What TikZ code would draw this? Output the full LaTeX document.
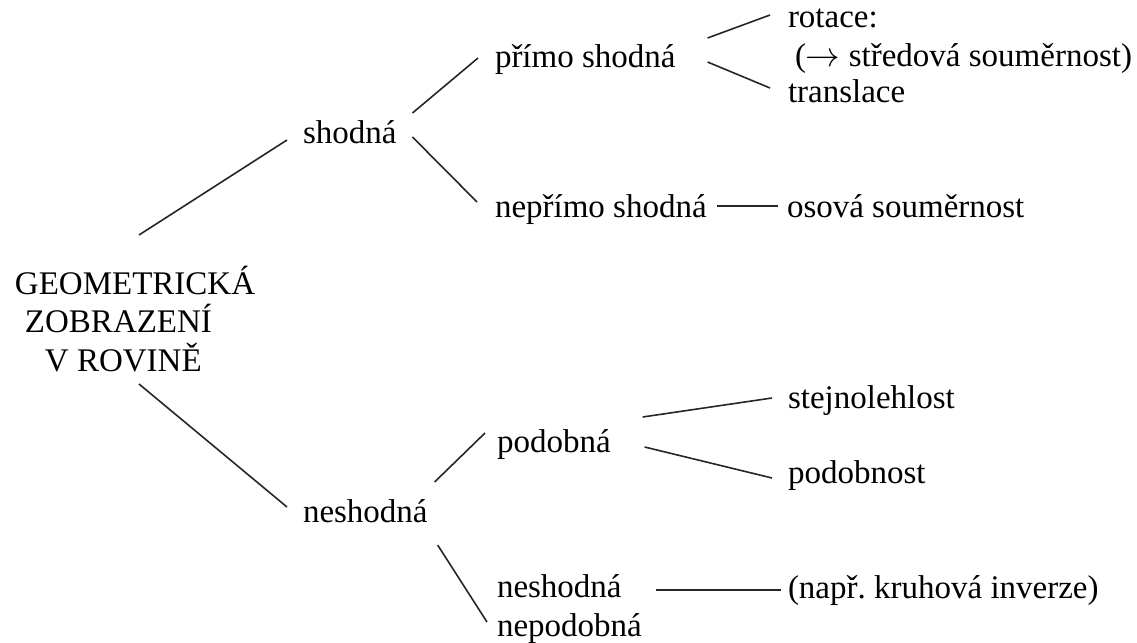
\documentclass[tikz,border=0pt]{standalone}
\usepackage{fontspec}
\setmainfont{Liberation Serif}
\usetikzlibrary{calc}
\frenchspacing
\tikzset{
  lbl/.style={inner sep=0pt, outer sep=0pt, anchor=base west, font=\fontsize{16.5}{19.2}\selectfont},
  blk/.style={lbl, align=left, anchor=south west, text depth=0pt},
  branch/.style={line width=0.8pt, black!85}
}
\begin{document}
\begin{tikzpicture}[x=0.5pt, y=-0.5pt]
\useasboundingbox (0,0) rectangle (1137,643);

% root and first level
\node[blk] (root) at (15,371) {GEOMETRICKÁ\\\hspace*{5pt}ZOBRAZENÍ\\\hspace*{15pt}V ROVINĚ};
\node[lbl] (shodna) at (303,143) {shodná};
\node[lbl] (neshodna) at (303,522) {neshodná};

% second level
\node[lbl] (primo) at (495,67) {přímo shodná};
\node[lbl] (neprimo) at (495,217) {nepřímo shodná};
\node[lbl] (podobna) at (497,452) {podobná};
\node[blk] (nepodobna) at (497,636) {neshodná\\nepodobná};

% leaves
\node[lbl] (rotace) at (788,27) {rotace:};
\node[lbl] (stredova) at (795,66) {($\rightarrow$ středová souměrnost)};
\node[lbl] (translace) at (788,102) {translace};
\node[lbl] (osova) at (787,217) {osová souměrnost};
\node[lbl] (stejnolehlost) at (788,408) {stejnolehlost};
\node[lbl] (podobnost) at (788,483) {podobnost};
\node[lbl] (inverze) at (788,598) {(např. kruhová inverze)};

% branches
\draw[branch] ($(root.south west)+(124,-136)$) -- ($(shodna.base west)+(-16,-3)$);
\draw[branch] ($(root.south west)+(124,13)$) -- ($(neshodna.base west)+(-16,-15)$);
\draw[branch] ($(shodna.base east)+(16,-30)$) -- ($(primo.base west)+(-17,-9)$);
\draw[branch] ($(shodna.base east)+(16,-6)$) -- ($(neprimo.base west)+(-18,-15)$);
\draw[branch] ($(primo.base east)+(32,-29)$) -- ($(rotace.base west)+(-18,-12)$);
\draw[branch] ($(primo.base east)+(32,-5)$) -- ($(translace.base west)+(-18,-14)$);
\draw[branch] ($(neprimo.base east)+(10,-11)$) -- ($(osova.base west)+(-9,-11)$);
\draw[branch] ($(neshodna.base east)+(7,-40)$) -- ($(podobna.base west)+(-12,-19)$);
\draw[branch] ($(neshodna.base east)+(10,23)$) -- ($(nepodobna.south west)+(-10,-14)$);
\draw[branch] ($(podobna.base east)+(32,-35)$) -- ($(stejnolehlost.base west)+(-16,-10)$);
\draw[branch] ($(podobna.base east)+(34,-5)$) -- ($(podobnost.base west)+(-16,-5)$);
\draw[branch] ($(nepodobna.south west)+(159,-46)$) -- ($(inverze.base west)+(-7,-8)$);

\end{tikzpicture}
\end{document}
